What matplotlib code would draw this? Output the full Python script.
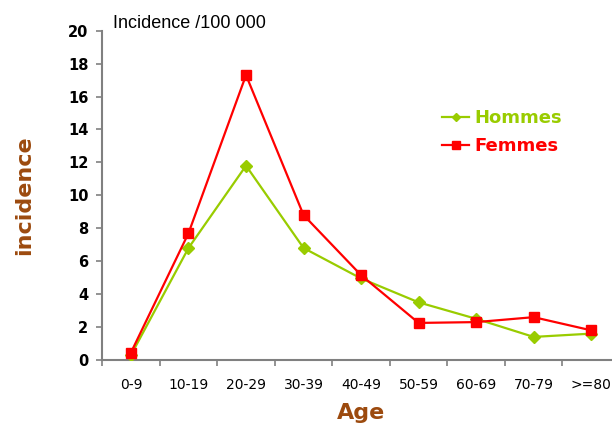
import numpy as np
import matplotlib.pyplot as plt

ages = ['0-9', '10-19', '20-29', '30-39', '40-49', '50-59', '60-69', '70-79', '>=80']
hommes = [0.3, 6.8, 11.8, 6.8, 4.95, 3.5, 2.5, 1.4, 1.6]
femmes = [0.45, 7.7, 17.3, 8.8, 5.15, 2.25, 2.3, 2.6, 1.8]

green = '#99CC00'
red = '#FF0000'
brown = '#9C4A0E'

fig = plt.figure(figsize=(6.12, 4.26), dpi=100)
ax = fig.add_axes([0.167, 0.155, 0.846, 0.773])

x = np.arange(len(ages))
ax.plot(x, hommes, color=green, lw=1.6, marker='D', markersize=6, label='Hommes', zorder=3)
ax.plot(x, femmes, color=red, lw=1.6, marker='s', markersize=7.5, label='Femmes', zorder=4)

ax.set_xlim(-0.5, 8.5)
ax.set_ylim(0, 20)
ax.set_yticks(np.arange(0, 21, 2))
ax.set_yticklabels([str(v) for v in range(0, 21, 2)], fontweight='heavy', fontsize=10.5)
# ticks between the categories, labels centred on them
ax.set_xticks(np.arange(-0.5, 9, 1))
ax.set_xticklabels([])
ax.set_xticks(x, minor=True)
ax.set_xticklabels(ages, minor=True, fontsize=10)
ax.tick_params(axis='x', which='minor', length=0, pad=13)
ax.tick_params(axis='both', which='major', color='#808080', length=4, width=1.2)
ax.tick_params(axis='y', pad=6)

for s in ['top', 'right']:
    ax.spines[s].set_visible(False)
for s in ['left', 'bottom']:
    ax.spines[s].set_color('#808080')
    ax.spines[s].set_linewidth(1.5)

ax.set_ylabel('incidence', color=brown, fontweight='bold', fontsize=16, labelpad=24)
ax.set_xlabel('Age', color=brown, fontweight='bold', fontsize=16, labelpad=8)

fig.text(0.185, 0.945, 'Incidence /100 000', fontsize=13, ha='left', va='center',
         family='Liberation Sans')

leg = ax.legend(loc='upper left', bbox_to_anchor=(0.625, 0.81), frameon=False,
                prop={'weight': 'bold', 'size': 13}, handlelength=1.5,
                handletextpad=0.3, labelspacing=0.55, markerscale=0.7)
for txt, c in zip(leg.get_texts(), [green, red]):
    txt.set_color(c)

fig.savefig('out.png', dpi=100)
